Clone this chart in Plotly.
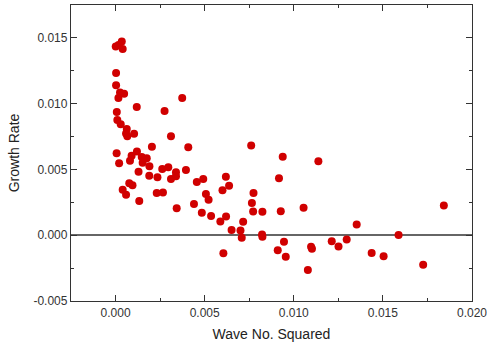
import plotly.graph_objects as go

# Wave number squared (x) and measured growth rate (y) for each sample
wave_no_sq = [
    0.00001, 0.00017, 0.00035, 0.00040, 0.00003, 0.00003, 0.00025, 0.00048,
    0.00016, 0.00119, 0.00275, 0.00374, 0.00007, 0.00010, 0.00029, 0.00063,
    0.00059, 0.00066, 0.00104, 0.00311, 0.00204, 0.00408, 0.00006, 0.00020,
    0.00120, 0.00090, 0.00081, 0.00147, 0.00175, 0.00152, 0.00190, 0.00262,
    0.00296, 0.00339, 0.00395, 0.00129, 0.00189, 0.00235, 0.00339, 0.00311,
    0.00456, 0.00492, 0.00619, 0.00040, 0.00059, 0.00077, 0.00095, 0.00133,
    0.00231, 0.00266, 0.00343, 0.00440, 0.00484, 0.00507, 0.00522, 0.00600,
    0.00637, 0.00536, 0.00588, 0.00620, 0.00651, 0.00701, 0.00708, 0.00716,
    0.00605, 0.00761, 0.00938, 0.01138, 0.00917, 0.00774, 0.00765, 0.00772,
    0.00824, 0.00822, 0.00824, 0.00927, 0.01055, 0.00945, 0.00910, 0.00955,
    0.01097, 0.01102, 0.01079, 0.01213, 0.01251, 0.01297, 0.01353, 0.01588,
    0.01437, 0.01504, 0.01726, 0.01842,
]
growth_rate = [
    0.01435, 0.01445, 0.01473, 0.01415, 0.01234, 0.01140, 0.01084, 0.01076,
    0.01043, 0.00974, 0.00944, 0.01043, 0.00936, 0.00875, 0.00844, 0.00808,
    0.00773, 0.00753, 0.00771, 0.00753, 0.00672, 0.00669, 0.00624, 0.00548,
    0.00636, 0.00605, 0.00567, 0.00594, 0.00586, 0.00550, 0.00524, 0.00504,
    0.00516, 0.00478, 0.00495, 0.00483, 0.00453, 0.00441, 0.00449, 0.00427,
    0.00405, 0.00427, 0.00445, 0.00346, 0.00308, 0.00395, 0.00380, 0.00260,
    0.00321, 0.00325, 0.00205, 0.00237, 0.00170, 0.00313, 0.00269, 0.00342,
    0.00376, 0.00147, 0.00104, 0.00142, 0.00040, 0.00035, -0.00019, 0.00102,
    -0.00137, 0.00682, 0.00596, 0.00563, 0.00434, 0.00321, 0.00244, 0.00180,
    0.00179, 0.00006, -0.00011, 0.00183, 0.00208, -0.00049, -0.00115, -0.00163,
    -0.00087, -0.00103, -0.00265, -0.00045, -0.00085, -0.00032, 0.00081, 0.00001,
    -0.00135, -0.00160, -0.00224, 0.00226,
]

# Tick positions and their printed labels
x_tick_vals = [0.000, 0.005, 0.010, 0.015, 0.020]
x_tick_text = ["0.000", "0.005", "0.010", "0.015", "0.020"]
y_tick_vals = [-0.005, 0.000, 0.005, 0.010, 0.015]
y_tick_text = ["-0.005", "0.000", "0.005", "0.010", "0.015"]

fig = go.Figure(
    go.Scatter(
        x=wave_no_sq,
        y=growth_rate,
        mode="markers",
        marker=dict(size=8, color="#d00000", line=dict(width=0)),
        showlegend=False,
    )
)

label_font = dict(family="Liberation Sans, Arial", size=12, color="#333333")
title_font = dict(family="Liberation Sans, Arial", size=14, color="#222222")

axis_common = dict(
    showgrid=False,
    showline=True,
    linecolor="#333333",
    linewidth=1.3,
    mirror="allticks",
    ticks="inside",
    ticklen=6,
    tickwidth=1.2,
    tickcolor="#333333",
    tickfont=label_font,
    ticklabeloverflow="allow",
    automargin=False,
    minor=dict(ticks="inside", ticklen=3, tickwidth=1, tickcolor="#333333",
               tick0=0, dtick=0.0025),
)

fig.update_xaxes(
    **axis_common,
    range=[-0.0025, 0.020],
    tickmode="array",
    tickvals=x_tick_vals,
    ticktext=x_tick_text,
    zeroline=False,
    title=dict(text="Wave No. Squared", font=title_font, standoff=10),
)
fig.update_yaxes(
    **axis_common,
    range=[-0.005, 0.0175],
    tickmode="array",
    tickvals=y_tick_vals,
    ticktext=y_tick_text,
    zeroline=True,
    zerolinecolor="#666666",
    zerolinewidth=1.6,
    title=dict(text="Growth Rate", font=title_font, standoff=10),
)

fig.update_layout(
    width=487,
    height=347,
    margin=dict(l=71, r=15, t=5, b=46),
    paper_bgcolor="white",
    plot_bgcolor="white",
)

fig.write_html("out.html")
